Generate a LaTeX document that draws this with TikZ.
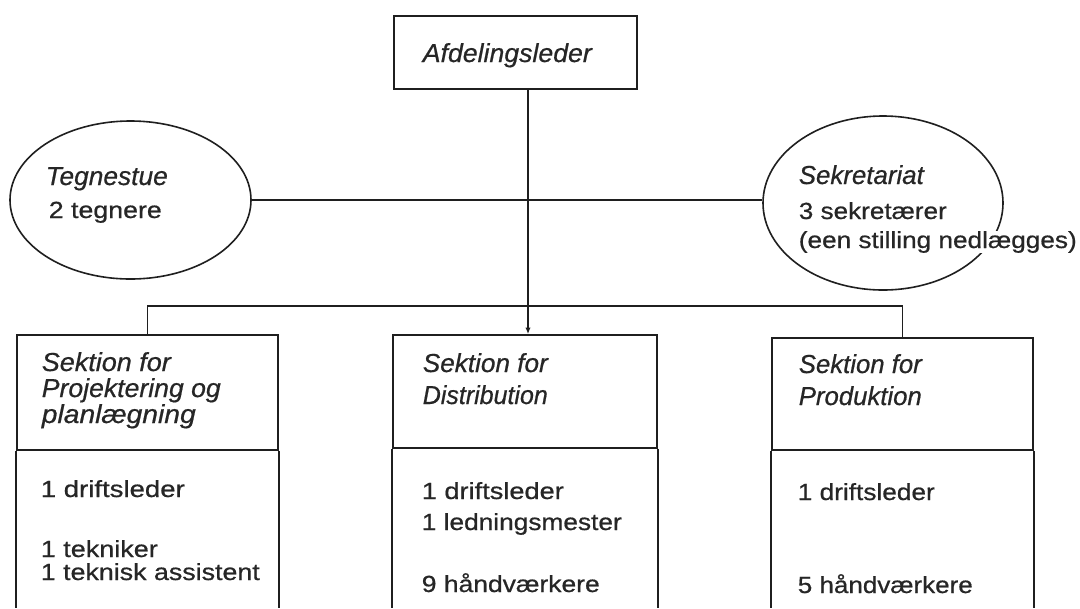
\documentclass[tikz,border=0pt]{standalone}
\usepackage{graphicx}
\usepackage{fontspec}
\setmainfont{Liberation Sans}[FakeBold=0.6]
\usetikzlibrary{arrows.meta,shapes.geometric}
\newcommand\fitw[2]{\resizebox{#1pt}{\height}{#2}}
\begin{document}
\begin{tikzpicture}[x=0.75pt,y=-0.75pt,
  line width=1.2pt,
  ink/.style={draw=black!88},
  boxnode/.style={ink, rectangle, inner sep=0pt},
  ovalnode/.style={ink, ellipse, inner sep=0pt},
  txt/.style={anchor=base west, inner sep=0pt, text=black!85, font=\fontsize{17.5pt}{21pt}\selectfont},
  ttl/.style={txt, font=\fontsize{19.5pt}{23pt}\selectfont\itshape},
  link/.style={ink}]
\useasboundingbox (0,0) rectangle (1080,608);
\fill[white] (0,0) rectangle (1080,608);

% top box
\node[boxnode, minimum width=182.25pt, minimum height=54.75pt] (top) at (515.5,52.5) {};
\node[ttl] (toptxt) at (422,62) {\fitw{126.75}{Afdelingsleder}};

% ellipses
\node[ovalnode, minimum width=180.75pt, minimum height=118.5pt] (teg) at (130.5,200) {};
\node[ovalnode, minimum width=180pt, minimum height=130.5pt] (sek) at (883,203) {};
\node[ttl] (tegA) at (45,185) {\fitw{91.5}{Tegnestue}};
\node[txt] (tegB) at (48,218) {\fitw{84.75}{2 tegnere}};
\node[ttl] (sekA) at (798,184) {\fitw{93.75}{Sekretariat}};
\node[txt] (sekB) at (798,219) {\fitw{111}{3 sekretærer}};
\node[txt, fill=white] (sekC) at (798,248) {\fitw{208.5}{(een stilling nedlægges)}};

% section headers
\node[boxnode, minimum width=195.75pt, minimum height=86.25pt] (s1) at (147.5,392.5) {};
\node[boxnode, minimum width=198pt, minimum height=84.75pt] (s2) at (525,391.5) {};
\node[boxnode, minimum width=195.75pt, minimum height=84pt] (s3) at (902.5,394) {};

% open bottoms of section boxes
\foreach \s in {s1,s2,s3}{
  \draw[link] (\s.south west) -- (\s.south west |- 0,608);
  \draw[link] (\s.south east) -- (\s.south east |- 0,608);
}

% section texts
\node[ttl] (s1a) at (41,371) {\fitw{96.75}{Sektion for}};
\node[ttl] (s1b) at (41,397) {\fitw{134.25}{Projektering og}};
\node[ttl] (s1c) at (41,423) {\fitw{115.5}{planlægning}};
\node[txt] (s1d) at (40,497) {\fitw{108}{1 driftsleder}};
\node[txt] (s1e) at (40,557) {\fitw{87.75}{1 tekniker}};
\node[txt] (s1f) at (40,580) {\fitw{164.25}{1 teknisk assistent}};

\node[ttl] (s2a) at (422,372) {\fitw{93.75}{Sektion for}};
\node[ttl] (s2b) at (422,404) {\fitw{93.75}{Distribution}};
\node[txt] (s2d) at (421,499) {\fitw{106.5}{1 driftsleder}};
\node[txt] (s2e) at (421,530) {\fitw{150}{1 ledningsmester}};
\node[txt] (s2f) at (421,592) {\fitw{133.5}{9 håndværkere}};

\node[ttl] (s3a) at (798,373) {\fitw{92.25}{Sektion for}};
\node[ttl] (s3b) at (798,405) {\fitw{92.25}{Produktion}};
\node[txt] (s3d) at (797,500) {\fitw{102.75}{1 driftsleder}};
\node[txt] (s3f) at (797,593) {\fitw{131.25}{5 håndværkere}};

% connectors
\coordinate (hub) at (528,306);
\draw[link] (teg.east) -- (teg.east -| sek.west);
\draw[link, -{Latex[length=5pt,width=4pt]}] (top.south -| hub) -- (s2.north -| hub);
\draw[link] (s1.north) |- (hub) -| (s3.north);
\end{tikzpicture}
\end{document}
